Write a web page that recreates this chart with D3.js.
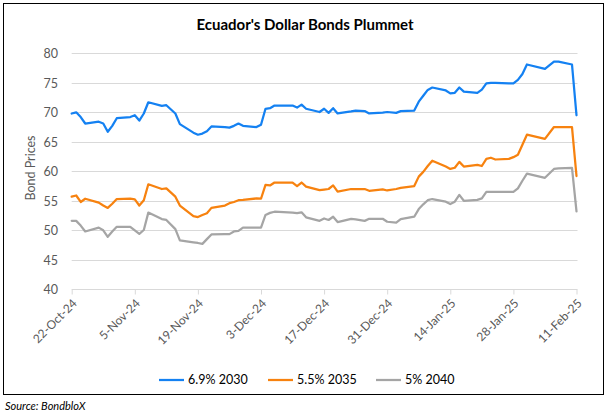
<!DOCTYPE html>
<html><head><meta charset="utf-8">
<script src="https://cdn.jsdelivr.net/npm/d3@7"></script>
<style>body{margin:0;background:#fff}svg{display:block}</style>
</head><body>
<svg id="chart" width="610" height="417"></svg>
<script>
const dates = ["2024-10-22","2024-10-23","2024-10-24","2024-10-25","2024-10-28","2024-10-29","2024-10-30","2024-10-31",
"2024-11-01","2024-11-04","2024-11-05","2024-11-06","2024-11-07","2024-11-08","2024-11-11","2024-11-12","2024-11-14","2024-11-15","2024-11-18","2024-11-19","2024-11-20","2024-11-21","2024-11-22","2024-11-25","2024-11-26","2024-11-27","2024-11-28","2024-11-29",
"2024-12-02","2024-12-03","2024-12-04","2024-12-05","2024-12-06","2024-12-10","2024-12-11","2024-12-12","2024-12-13","2024-12-16","2024-12-17","2024-12-18","2024-12-19","2024-12-20","2024-12-23","2024-12-24","2024-12-26","2024-12-27","2024-12-30","2024-12-31",
"2025-01-02","2025-01-03","2025-01-06","2025-01-07","2025-01-08","2025-01-09","2025-01-10","2025-01-13","2025-01-14","2025-01-15","2025-01-16","2025-01-17","2025-01-20","2025-01-21","2025-01-22","2025-01-23","2025-01-24","2025-01-27","2025-01-28","2025-01-29","2025-01-30","2025-01-31",
"2025-02-04","2025-02-06","2025-02-07","2025-02-10","2025-02-11"];

const bond2030 = [69.8,70.0,69.2,68.1,68.4,68.1,66.7,67.7,
69.0,69.2,69.5,68.6,69.8,71.7,71.1,71.2,69.8,68.0,66.55,66.2,66.4,66.8,67.6,67.5,67.4,67.7,68.1,67.7,
67.5,67.9,70.6,70.7,71.15,71.15,70.8,71.3,70.6,70.05,70.6,69.9,70.7,69.8,70.15,70.3,70.2,69.8,69.95,70.05,
69.9,70.2,70.3,71.8,72.8,73.8,74.2,73.7,73.2,73.3,74.2,73.5,73.3,73.85,74.9,75.0,75.0,74.9,74.9,75.5,76.5,78.1,
77.35,78.6,78.6,78.1,69.5];

const bond2035 = [55.7,55.9,54.8,55.35,54.7,54.2,53.8,54.5,
55.3,55.35,55.25,54.2,55.1,57.8,57.0,57.1,55.7,54.2,52.4,52.25,52.6,52.9,53.8,54.2,54.6,54.8,55.1,55.15,
55.4,55.35,57.7,57.6,58.1,58.1,57.5,58.1,57.4,56.8,56.9,57.0,57.6,56.55,57.0,57.0,57.0,56.7,56.95,56.75,
57.0,57.2,57.5,59.1,59.9,60.9,61.8,60.8,60.4,60.6,61.6,60.8,61.1,60.9,62.1,62.3,62.0,62.1,62.4,62.8,64.5,66.2,
65.5,67.5,67.5,67.5,59.2];

const bond2040 = [51.6,51.6,50.8,49.8,50.45,50.0,48.9,49.8,
50.6,50.6,50.0,49.4,50.05,53.0,51.9,51.75,50.2,48.3,47.95,47.85,47.7,48.5,49.3,49.35,49.35,49.8,49.9,50.45,
50.45,50.45,52.6,52.95,53.15,53.0,52.9,53.05,52.2,51.6,52.0,51.75,52.3,51.4,51.95,51.85,51.6,51.95,51.95,51.45,
51.3,51.9,52.3,53.6,54.4,55.1,55.3,54.85,54.45,54.85,56.0,55.0,55.15,55.4,56.5,56.5,56.5,56.5,56.5,57.1,58.4,59.6,
58.9,60.4,60.5,60.6,53.2];

const seriesNames = ["6.9% 2030","5.5% 2035","5% 2040"];
const seriesColors = ["#1481f2","#f7820f","#a5a5a5"];
const yTicks = [40,45,50,55,60,65,70,75,80];
const xTickLabels = ["22-Oct-24","5-Nov-24","19-Nov-24","3-Dec-24","17-Dec-24","31-Dec-24","14-Jan-25","28-Jan-25","11-Feb-25"];
const titleText = "Ecuador's Dollar Bonds Plummet";
const yTitle = "Bond Prices";
const sourceText = "Source: BondbloX";

(function(){
const parse = d3.timeParse("%Y-%m-%d");
const tickParse = d3.timeParse("%d-%b-%y");
const allSeries = [bond2030, bond2035, bond2040];

const svg = d3.select("#chart");
const FONT = "Lato, 'Open Sans', sans-serif";
const pL = 71.7, pR = 576.5, pT = 53.3, pB = 289.3;

const x = d3.scaleTime().domain([parse(dates[0]), parse(dates[dates.length-1])]).range([pL, pR]);
const y = d3.scaleLinear().domain([40, 80]).range([pB, pT]);

svg.append("rect").attr("x",3.5).attr("y",3.5).attr("width",600).attr("height",391)
  .attr("fill","none").attr("stroke","#000").attr("stroke-width",1);

svg.append("text").attr("x",305).attr("y",30).attr("text-anchor","middle")
  .attr("font-family",FONT).attr("font-weight","bold").attr("font-size",15).attr("fill","#000").text(titleText);

svg.append("g").selectAll("line").data(yTicks.slice(1)).join("line")
  .attr("x1",pL).attr("x2",pR+1).attr("y1",d=>Math.round(y(d))+0.5).attr("y2",d=>Math.round(y(d))+0.5)
  .attr("stroke","#d9d9d9").attr("stroke-width",1);

const yAxis = d3.axisLeft(y).tickValues(yTicks).tickSize(0).tickPadding(0);
const gy = svg.append("g").attr("transform",`translate(58,0)`).call(yAxis);
gy.select(".domain").remove();
gy.selectAll("text").attr("font-family",FONT).attr("font-size",12.5).attr("fill","#595959").attr("dy","0.35em");

const xTickDates = xTickLabels.map(s=>tickParse(s));
const xAxis = d3.axisBottom(x).tickValues(xTickDates).tickSize(5).tickFormat((d,i)=>xTickLabels[i]);
const gx = svg.append("g").attr("transform",`translate(0,${Math.round(pB)+0.5})`).call(xAxis);
gx.select(".domain").attr("stroke","#d9d9d9").attr("d",`M${pL},0H${pR+1}`);
gx.selectAll(".tick line").attr("stroke","#d9d9d9");
gx.selectAll(".tick text").attr("font-family",FONT).attr("font-size",12).attr("fill","#595959")
  .attr("text-anchor","end").attr("dy","0.3em").attr("y",0)
  .attr("transform","translate(3,12) rotate(-45)");

svg.append("text").attr("transform","translate(35,168) rotate(-90)").attr("text-anchor","middle")
  .attr("font-family",FONT).attr("font-size",12.5).attr("fill","#595959").text(yTitle);

const line = d3.line().x((d,i)=>x(parse(dates[i]))).y(d=>y(d));
svg.append("g").selectAll("path").data(allSeries).join("path")
  .attr("d",d=>line(d)).attr("fill","none").attr("stroke",(d,i)=>seriesColors[i])
  .attr("stroke-width",2.25).attr("stroke-linejoin","round").attr("stroke-linecap","round");

const legX = [159, 268, 376];
const leg = svg.append("g").selectAll("g").data(seriesNames).join("g")
  .attr("transform",(d,i)=>`translate(${legX[i]},380)`);
leg.append("line").attr("x1",0).attr("x2",25).attr("y1",0).attr("y2",0)
  .attr("stroke",(d,i)=>seriesColors[i]).attr("stroke-width",2.25);
leg.append("text").attr("x",29).attr("y",0).attr("dy","0.35em").attr("font-family",FONT).attr("font-size",12.5)
  .attr("fill","#000").text(d=>d);

svg.append("text").attr("x",5).attr("y",410).attr("font-family",FONT).attr("font-style","italic")
  .attr("font-size",11).attr("fill","#000").text(sourceText);
})();
</script>
</body></html>
